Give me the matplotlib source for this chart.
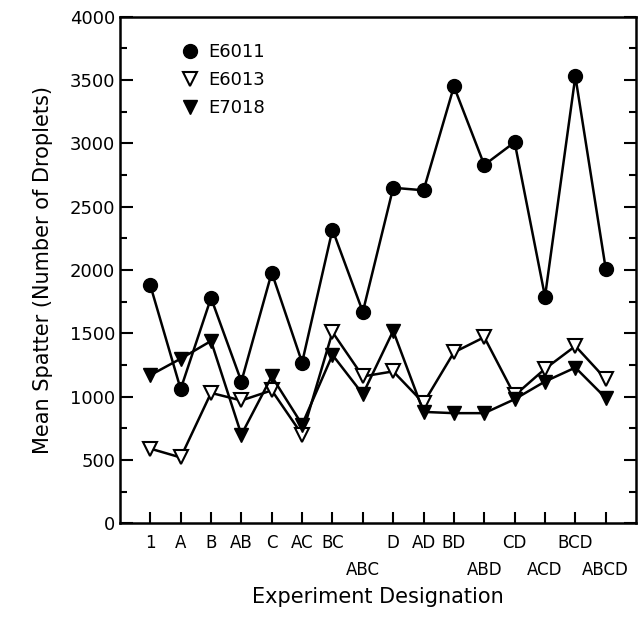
import matplotlib.pyplot as plt
from matplotlib.ticker import MultipleLocator, FixedLocator, FixedFormatter

# Data
designations = ['1', 'A', 'B', 'AB', 'C', 'AC', 'BC', 'ABC',
                'D', 'AD', 'BD', 'ABD', 'CD', 'ACD', 'BCD', 'ABCD']
lower_row = ['ABC', 'ABD', 'ACD', 'ABCD']
e6011 = [1880, 1060, 1780, 1120, 1980, 1270, 2320, 1670,
         2650, 2630, 3450, 2830, 3010, 1790, 3530, 2010]
e6013 = [590, 520, 1030, 970, 1050, 700, 1510, 1160,
         1200, 950, 1350, 1470, 1010, 1220, 1400, 1140]
e7018 = [1170, 1300, 1440, 700, 1160, 780, 1330, 1020,
         1520, 880, 870, 870, 980, 1120, 1230, 990]

x = list(range(1, len(designations) + 1))

fig = plt.figure(figsize=(6.38, 6.23), dpi=100)
ax = fig.add_axes([0.188, 0.16, 0.809, 0.813])

ax.plot(x, e6011, color='black', lw=1.8, marker='o', ms=10,
        mfc='black', mec='black', label='E6011')
ax.plot(x, e6013, color='black', lw=1.8, marker='v', ms=10,
        mfc='white', mec='black', mew=1.5, label='E6013')
ax.plot(x, e7018, color='black', lw=1.8, marker='v', ms=10,
        mfc='black', mec='black', label='E7018')

ax.set_xlim(0, 17)
ax.set_ylim(0, 4000)
ax.yaxis.set_major_locator(MultipleLocator(500))
ax.yaxis.set_minor_locator(MultipleLocator(250))

# top row labels on major ticks, bottom row on minor ticks (same spots)
top = [d if d not in lower_row else '' for d in designations]
low_pos = [xi for xi, d in zip(x, designations) if d in lower_row]
ax.xaxis.remove_overlapping_locs = False
ax.xaxis.set_major_locator(FixedLocator(x))
ax.xaxis.set_major_formatter(FixedFormatter(top))
ax.xaxis.set_minor_locator(FixedLocator(low_pos))
ax.xaxis.set_minor_formatter(FixedFormatter(lower_row))

ax.tick_params(axis='y', labelsize=13)
ax.tick_params(axis='y', which='both', direction='in', right=True, width=1.5)
ax.tick_params(axis='y', which='major', length=9)
ax.tick_params(axis='y', which='minor', length=5)
ax.tick_params(axis='x', which='major', direction='in', length=8,
               width=1.5, pad=8, labelsize=12)
ax.tick_params(axis='x', which='minor', length=0, pad=27, labelsize=12)
for s in ax.spines.values():
    s.set_linewidth(1.8)

ax.set_ylabel('Mean Spatter (Number of Droplets)', fontsize=15, labelpad=12)
ax.set_xlabel('Experiment Designation', fontsize=15, labelpad=6)

ax.legend(loc='upper left', frameon=False, fontsize=13, handlelength=0.8,
          handletextpad=0.6, labelspacing=0.55, bbox_to_anchor=(0.09, 0.98))
for line in ax.get_legend().get_lines():
    line.set_linestyle('None')

fig.savefig('out.png', dpi=100)
